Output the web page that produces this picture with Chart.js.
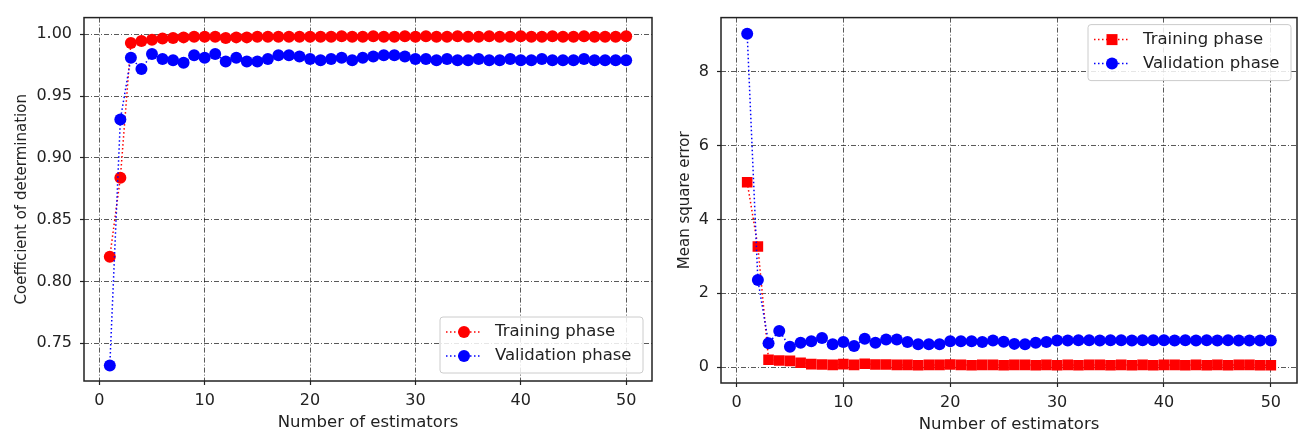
<!DOCTYPE html>
<html>
<head>
<meta charset="utf-8">
<script src="https://cdn.jsdelivr.net/npm/chart.js@4/dist/chart.umd.min.js"></script>
<style>
  body { margin: 0; background: #fff; }
  #left { position: absolute; left: 0; top: 0; }
  #right { position: absolute; left: 660px; top: 0; }
</style>
</head>
<body>
<canvas id="left" width="660" height="439"></canvas>
<canvas id="right" width="648" height="439"></canvas>
<script>
// numero de estimadores 1..50
const estimators = [1,2,3,4,5,6,7,8,9,10,11,12,13,14,15,16,17,18,19,20,21,22,23,24,25,26,27,28,29,30,31,32,33,34,35,36,37,38,39,40,41,42,43,44,45,46,47,48,49,50];

// coeficiente de determinacao
const r2Train = [0.820,0.884,0.993,0.9945,0.9955,0.9965,0.997,0.9975,0.998,0.998,0.998,0.997,0.9975,0.9975,0.998,0.998,0.998,0.998,0.998,0.998,
  0.998,0.998,0.9985,0.998,0.998,0.9985,0.998,0.998,0.9985,0.998,0.9985,0.998,0.998,0.9985,0.998,0.998,0.9985,0.998,0.998,0.9985,
  0.998,0.998,0.9985,0.998,0.998,0.9985,0.998,0.998,0.998,0.9985];
const r2Val = [0.732,0.931,0.981,0.972,0.984,0.980,0.979,0.977,0.983,0.981,0.984,0.978,0.981,0.978,0.978,0.980,0.983,0.983,0.982,0.980,
  0.979,0.980,0.981,0.979,0.981,0.982,0.983,0.983,0.982,0.980,0.980,0.979,0.980,0.979,0.979,0.980,0.979,0.979,0.980,0.979,
  0.979,0.980,0.979,0.979,0.979,0.980,0.979,0.979,0.979,0.979];

// erro quadratico medio
const mseTrain = [5.01,3.27,0.20,0.18,0.17,0.12,0.08,0.07,0.06,0.08,0.06,0.09,0.07,0.07,0.06,0.06,0.05,0.06,0.06,0.07,
  0.06,0.05,0.06,0.06,0.05,0.06,0.06,0.05,0.06,0.05,0.06,0.05,0.06,0.06,0.05,0.06,0.05,0.06,0.05,0.06,
  0.06,0.05,0.06,0.05,0.06,0.05,0.06,0.06,0.05,0.05];
const mseVal = [9.03,2.36,0.65,0.98,0.55,0.66,0.70,0.79,0.62,0.68,0.57,0.77,0.66,0.75,0.75,0.68,0.62,0.62,0.62,0.70,
  0.70,0.70,0.68,0.72,0.69,0.63,0.62,0.66,0.68,0.72,0.72,0.73,0.73,0.72,0.73,0.73,0.72,0.73,0.73,0.73,
  0.72,0.73,0.72,0.73,0.72,0.73,0.72,0.72,0.72,0.72];

const xTicks = [0,10,20,30,40,50];
const r2Ticks = [0.75,0.80,0.85,0.90,0.95,1.00];
const r2TickLabels = ['0.75','0.80','0.85','0.90','0.95','1.00'];
const mseTicks = [0,2,4,6,8];
const mseTickLabels = ['0','2','4','6','8'];

Chart.defaults.font.family = 'DejaVu Sans';
Chart.defaults.font.size = 16;
Chart.defaults.color = '#222';

const toPoints = (ys) => ys.map((y, i) => ({ x: estimators[i], y: y }));

// moldura e legenda desenhadas dentro da area do grafico
const framePlugin = {
  id: 'frame',
  afterDatasetsDraw(chart, args, opts) {
    const { ctx, chartArea: a } = chart;
    ctx.save();
    ctx.strokeStyle = '#222';
    ctx.lineWidth = 1.5;
    ctx.strokeRect(a.left, a.top, a.right - a.left, a.bottom - a.top);

    const lg = opts.legend;
    const w = 203, h = 56;
    const bx = a.right - lg.right - w;
    const by = lg.corner === 'bottom' ? a.bottom - lg.inset - h : a.top + lg.inset;
    ctx.fillStyle = 'rgba(255,255,255,0.85)';
    ctx.strokeStyle = '#ccc';
    ctx.lineWidth = 1;
    ctx.beginPath();
    ctx.roundRect(bx, by, w, h, 3);
    ctx.fill();
    ctx.stroke();

    chart.data.datasets.forEach((ds, i) => {
      const y = by + 15 + i * 24;
      ctx.strokeStyle = ds.borderColor;
      ctx.lineWidth = 1.5;
      ctx.setLineDash([1.5, 2.5]);
      ctx.beginPath();
      ctx.moveTo(bx + 6, y);
      ctx.lineTo(bx + 42, y);
      ctx.stroke();
      ctx.setLineDash([]);
      ctx.fillStyle = ds.borderColor;
      if (ds.legendMarker === 'rect') {
        ctx.fillRect(bx + 24 - 5.5, y - 5.5, 11, 11);
      } else {
        ctx.beginPath();
        ctx.arc(bx + 24, y, 6, 0, Math.PI * 2);
        ctx.fill();
      }
      ctx.fillStyle = '#222';
      ctx.font = '16.5px DejaVu Sans';
      ctx.textBaseline = 'middle';
      ctx.fillText(ds.label, bx + 55, y);
    });
    ctx.restore();
  }
};

function gridOpts() {
  return {
    color: 'rgba(0,0,0,0.65)',
    lineWidth: 1,
    tickColor: '#222',
    tickLength: 4,
    tickWidth: 1.2,
    tickBorderDash: []
  };
}

function makeChart(id, cfg) {
  return new Chart(document.getElementById(id), {
    type: 'line',
    data: {
      datasets: [
        {
          label: 'Training phase',
          data: toPoints(cfg.train),
          borderColor: '#ff0000',
          backgroundColor: '#ff0000',
          borderWidth: 1.5,
          borderDash: [1.5, 2.5],
          pointStyle: cfg.trainStyle,
          pointRadius: cfg.trainRadius,
          pointBorderWidth: 0,
          legendMarker: cfg.trainStyle,
          order: 1
        },
        {
          label: 'Validation phase',
          data: toPoints(cfg.val),
          borderColor: '#0000ff',
          backgroundColor: '#0000ff',
          borderWidth: 1.5,
          borderDash: [1.5, 2.5],
          pointRadius: 6,
          pointBorderWidth: 0,
          legendMarker: 'circle',
          order: 0
        }
      ]
    },
    options: {
      responsive: false,
      animation: false,
      devicePixelRatio: 1,
      layout: { padding: cfg.padding },
      scales: {
        x: {
          type: 'linear',
          min: -1.45,
          max: 52.45,
          afterBuildTicks: s => { s.ticks = xTicks.map(v => ({ value: v })); },
          afterFit: s => { s.height = cfg.xHeight; },
          ticks: { padding: 6, callback: v => String(v) },
          grid: gridOpts(),
          border: { display: false, dash: [5, 2, 1, 2] },
          title: { display: true, text: 'Number of estimators', font: { size: 16.5 }, padding: { bottom: cfg.xTitlePad } }
        },
        y: {
          min: cfg.yMin,
          max: cfg.yMax,
          afterBuildTicks: s => { s.ticks = cfg.yTicks.map(v => ({ value: v })); },
          afterFit: s => { s.width = cfg.yWidth; },
          ticks: { padding: 8, callback: (v, i) => cfg.yLabels[i] },
          grid: gridOpts(),
          border: { display: false, dash: [5, 2, 1, 2] },
          title: { display: true, text: cfg.yTitle, font: { size: 15 }, padding: { top: cfg.yTitlePad } }
        }
      },
      plugins: {
        legend: { display: false },
        tooltip: { enabled: false },
        frame: { legend: cfg.legend }
      }
    },
    plugins: [framePlugin]
  });
}

makeChart('left', {
  train: r2Train, val: r2Val,
  trainStyle: 'circle', trainRadius: 6,
  yMin: 0.7195, yMax: 1.0135,
  yTicks: r2Ticks, yLabels: r2TickLabels,
  yTitle: 'Coefficient of determination',
  padding: { left: 0, right: 8, top: 13, bottom: 0 },
  yWidth: 84, xHeight: 58,
  xTitlePad: 6, yTitlePad: 13,
  legend: { corner: 'bottom', right: 9, inset: 8 }
});

makeChart('right', {
  train: mseTrain, val: mseVal,
  trainStyle: 'rect', trainRadius: 7.5,
  yMin: -0.43, yMax: 9.47,
  yTicks: mseTicks, yLabels: mseTickLabels,
  yTitle: 'Mean square error',
  padding: { left: 0, right: 11, top: 8, bottom: 0 },
  yWidth: 61, xHeight: 56,
  xTitlePad: 4, yTitlePad: 16,
  legend: { corner: 'top', right: 6, inset: 7 }
});
</script>
</body>
</html>
